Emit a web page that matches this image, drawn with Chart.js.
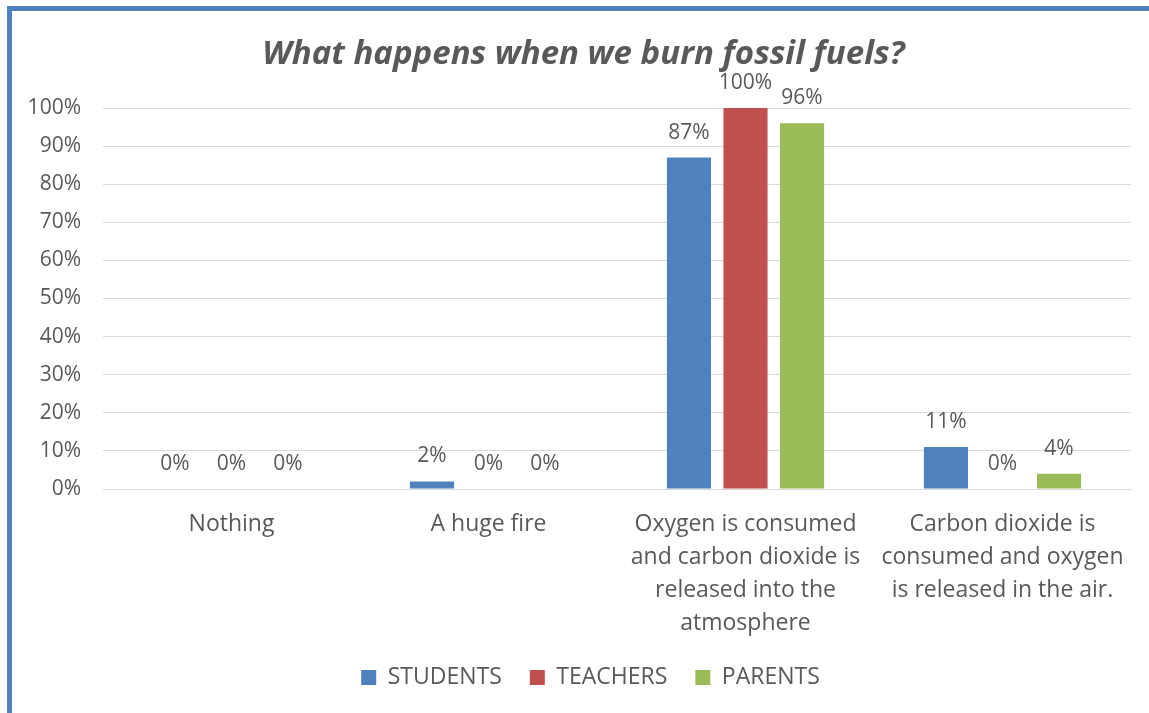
<!DOCTYPE html>
<html>
<head>
<meta charset="utf-8">
<script src="https://cdn.jsdelivr.net/npm/chart.js@4"></script>
<style>
  html, body { margin: 0; padding: 0; background: #fff; overflow: hidden; }
  #wrap { position: relative; width: 1149px; height: 713px; }
  #myChart { position: absolute; left: 0; top: 0; }
  #frame {
    position: absolute; left: 7px; top: 6px; width: 1200px; height: 800px;
    border-left: 5px solid #4F81BD; border-top: 5px solid #4F81BD;
    pointer-events: none;
  }
</style>
</head>
<body>
<div id="wrap">
  <canvas id="myChart" width="1149" height="713"></canvas>
  <div id="frame"></div>
</div>
<script>
// chart data
const categories = [
  'Nothing',
  'A huge fire',
  ['Oxygen is consumed', 'and carbon dioxide is', 'released into the', 'atmosphere'],
  ['Carbon dioxide is', 'consumed and oxygen', 'is released in the air.']
];
const students = [0, 2, 87, 11];
const teachers = [0, 0, 100, 0];
const parents  = [0, 0, 96, 4];
const yTicks   = [0, 10, 20, 30, 40, 50, 60, 70, 80, 90, 100];

const textColor = '#595959';
const fontFamily = '"Open Sans", "Noto Sans", sans-serif';

// draws the % value above each bar
const barLabels = {
  id: 'barLabels',
  afterDatasetsDraw(chart) {
    const ctx = chart.ctx;
    ctx.save();
    ctx.font = '21px ' + fontFamily;
    ctx.fillStyle = textColor;
    ctx.textAlign = 'center';
    ctx.textBaseline = 'alphabetic';
    chart.data.datasets.forEach((ds, i) => {
      chart.getDatasetMeta(i).data.forEach((bar, j) => {
        ctx.fillText(ds.data[j] + '%', bar.x, bar.y - 19);
      });
    });
    ctx.restore();
  }
};

// nudge title and legend a bit to the right, like the original
const shiftBoxes = {
  id: 'shiftBoxes',
  afterLayout(chart) {
    if (chart.titleBlock) { chart.titleBlock.left += 8; chart.titleBlock.right += 8; }
    if (chart.legend) { chart.legend.left += 15; chart.legend.right += 15; }
  }
};

new Chart(document.getElementById('myChart'), {
  type: 'bar',
  data: {
    labels: categories,
    datasets: [
      { label: 'STUDENTS', data: students, backgroundColor: '#4F81BD' },
      { label: 'TEACHERS', data: teachers, backgroundColor: '#C0504D' },
      { label: 'PARENTS',  data: parents,  backgroundColor: '#9BBB59' }
    ]
  },
  options: {
    responsive: false,
    animation: false,
    categoryPercentage: 0.66,
    barPercentage: 0.78,
    layout: { padding: { left: 20, right: 18, top: 35, bottom: 14 } },
    plugins: {
      title: {
        display: true,
        text: 'What happens when we burn fossil fuels?',
        color: textColor,
        font: { family: fontFamily, size: 33, weight: 'bold', style: 'italic' },
        padding: { top: 0, bottom: 33.4 }
      },
      legend: {
        position: 'bottom',
        labels: {
          color: textColor,
          font: { family: fontFamily, size: 23 },
          boxWidth: 15,
          boxHeight: 15,
          padding: 28
        }
      },
      tooltip: { enabled: false }
    },
    scales: {
      x: {
        grid: { display: false },
        border: { color: '#D9D9D9', width: 1 },
        ticks: {
          color: textColor,
          font: { family: fontFamily, size: 23, lineHeight: 1.43 },
          maxRotation: 0,
          autoSkip: false,
          padding: 11
        },
        afterFit(scale) { scale.height = 149; }
      },
      y: {
        min: 0,
        max: 100,
        afterBuildTicks(scale) { scale.ticks = yTicks.map(v => ({ value: v })); },
        grid: { color: '#D9D9D9', drawTicks: false },
        border: { display: false },
        ticks: {
          color: textColor,
          font: { family: fontFamily, size: 21 },
          padding: 22,
          callback: v => v + '%'
        },
        afterFit(scale) { scale.width = 83; }
      }
    }
  },
  plugins: [barLabels, shiftBoxes]
});
</script>
</body>
</html>
